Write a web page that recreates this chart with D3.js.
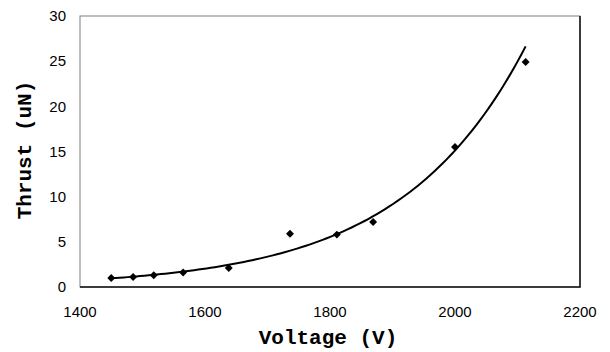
<!DOCTYPE html>
<html>
<head>
<meta charset="utf-8">
<script src="https://cdn.jsdelivr.net/npm/d3@7"></script>
<style>
  body { margin: 0; background: #fff; }
  .tick-label { font-family: "Liberation Sans", Arial, sans-serif; font-size: 15px; fill: #000; }
  .axis-title { font-family: "Liberation Mono", "Courier New", monospace; font-size: 21px; font-weight: bold; fill: #000; }
</style>
</head>
<body>
<div id="chart"></div>
<script>
// Data
const voltage = [1450, 1485, 1518, 1565, 1638, 1736, 1811, 1869, 2000, 2113];
const thrust = [1.0, 1.1, 1.3, 1.6, 2.1, 5.9, 5.8, 7.2, 15.5, 24.9];
const xTicks = [1400, 1600, 1800, 2000, 2200];
const yTicks = [0, 5, 10, 15, 20, 25, 30];

const width = 610;
const height = 352;
const margin = { top: 16, right: 30, bottom: 65, left: 80 };
const innerWidth = 500;
const innerHeight = 271;

const svg = d3
  .select("#chart")
  .append("svg")
  .attr("width", width)
  .attr("height", height);

const chart = svg
  .append("g")
  .attr("transform", `translate(${margin.left}, ${margin.top})`);

const x = d3.scaleLinear().domain([1400, 2200]).range([0, innerWidth]);
const y = d3.scaleLinear().domain([0, 30]).range([innerHeight, 0]);

// Plot area frame
chart
  .append("rect")
  .attr("x", 0)
  .attr("y", 0)
  .attr("width", innerWidth)
  .attr("height", innerHeight)
  .attr("fill", "none")
  .attr("stroke", "#808080")
  .attr("stroke-width", 1);

// darker right / bottom edges
chart
  .append("path")
  .attr("d", `M${innerWidth},0V${innerHeight}H0`)
  .attr("fill", "none")
  .attr("stroke", "#111")
  .attr("stroke-width", 1.5);

// Tick labels
chart
  .selectAll("text.xt")
  .data(xTicks)
  .enter()
  .append("text")
  .attr("class", "tick-label")
  .attr("x", (d) => x(d))
  .attr("y", innerHeight + 30)
  .attr("text-anchor", "middle")
  .text((d) => d);

chart
  .selectAll("text.yt")
  .data(yTicks)
  .enter()
  .append("text")
  .attr("class", "tick-label")
  .attr("x", -14)
  .attr("y", (d) => y(d))
  .attr("dy", "0.35em")
  .attr("text-anchor", "end")
  .text((d) => d);

// Exponential trendline, least squares on ln(y) like Excel
const n = voltage.length;
const lnY = thrust.map((v) => Math.log(v));
const mx = d3.mean(voltage);
const my = d3.mean(lnY);
const b =
  d3.sum(voltage, (v, i) => (v - mx) * (lnY[i] - my)) /
  d3.sum(voltage, (v) => (v - mx) * (v - mx));
const a = Math.exp(my - b * mx);
const fit = d3.range(0, 101).map((i) => {
  const v = voltage[0] + ((voltage[n - 1] - voltage[0]) * i) / 100;
  return [v, a * Math.exp(b * v)];
});

chart
  .append("path")
  .datum(fit)
  .attr("fill", "none")
  .attr("stroke", "#000")
  .attr("stroke-width", 2)
  .attr(
    "d",
    d3
      .line()
      .x((d) => x(d[0]))
      .y((d) => y(d[1]))
  );

// Markers
chart
  .selectAll("path.pt")
  .data(voltage)
  .enter()
  .append("path")
  .attr("class", "pt")
  .attr("transform", (d, i) => `translate(${x(d)}, ${y(thrust[i])})`)
  .attr("d", d3.symbol(d3.symbolDiamond2, 40))
  .attr("fill", "#000");

// Axis titles
svg
  .append("text")
  .attr("class", "axis-title")
  .attr("x", margin.left + innerWidth / 2 - 2)
  .attr("y", 344)
  .attr("text-anchor", "middle")
  .text("Voltage (V)");

svg
  .append("text")
  .attr("class", "axis-title")
  .attr("transform", "rotate(-90)")
  .attr("x", -150)
  .attr("y", 31)
  .attr("text-anchor", "middle")
  .text("Thrust (uN)");
</script>
</body>
</html>
